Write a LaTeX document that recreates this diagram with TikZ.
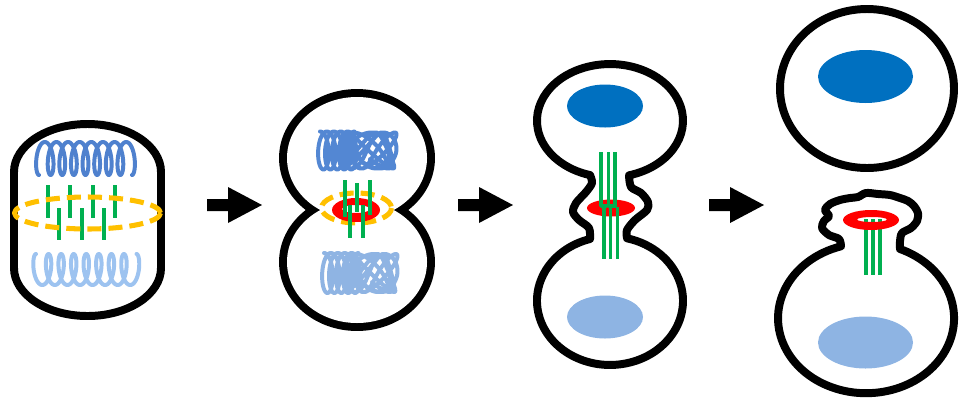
\documentclass[tikz,border=0pt]{standalone}
\usepackage{tikz}
\definecolor{coildark}{HTML}{4F81CE}
\definecolor{coillight}{HTML}{9DC3F0}
\definecolor{blobdark}{HTML}{5387D3}
\definecolor{bloblight}{HTML}{8FB4E3}
\definecolor{nucdark}{HTML}{0070C0}
\definecolor{nuclight}{HTML}{8EB4E3}
\definecolor{spindle}{HTML}{00B050}
\definecolor{plate}{HTML}{FFC000}
\definecolor{ringred}{HTML}{FF0000}

\begin{document}
\begin{tikzpicture}[x=0.03cm, y=-0.03cm, line join=round, wall/.style={line width=6.8pt}, fiber/.style={spindle, line width=3pt}, platedash/.style={plate, line width=4.3pt, dash pattern=on 12pt off 6pt}, coil/.style={line width=3.4pt, line cap=round}]
\useasboundingbox (0,0) rectangle (963,409);
\draw[wall] (14,172) arc[start angle=180, end angle=360, x radius=73.5, y radius=48] -- (161,268) arc[start angle=0, end angle=180, x radius=73.5, y radius=48] -- cycle;
\draw[coil, coildark] plot[domain=0:50.27, samples=400, variable=\t] ({39+1.85*\t-5.5*sin(\t r)}, {158.5+16.5*cos(\t r)});
\draw[coil, coillight] plot[domain=0:50.27, samples=400, variable=\t] ({36+2.0*\t-5.5*sin(\t r)}, {269.5-15.5*cos(\t r)});
\foreach \gx in {48,70,93,115} \draw[fiber] (\gx,185) -- (\gx,218);
\foreach \gx in {59,82,104} \draw[fiber] (\gx,208) -- (\gx,240);
\draw[platedash] (87.5,213) ellipse[x radius=73, y radius=16];
\foreach \ax in {207,458,709} \fill (\ax,199) -- ++(21,0) -- ++(0,-12) -- ++(34,18) -- ++(-34,18) -- ++(0,-12) -- ++(-21,0) -- cycle;
\draw[line width=13.6pt] (357,158) ellipse[x radius=70, y radius=61] (357,262) ellipse[x radius=70, y radius=61];
\fill[white] (357,158) ellipse[x radius=70, y radius=61] (357,262) ellipse[x radius=70, y radius=61];
\draw[coil, blobdark] plot[domain=0:31.4, samples=300, variable=\t] ({320+1.1*\t+7*sin(\t r)}, {150.5-19*cos(\t r)});
\draw[coil, blobdark] plot[domain=0:25, samples=500, variable=\t] ({370+23*sin(1.3*\t r)+4*sin(3.1*\t r)}, {150.5+18*sin((2.1*\t+0.5) r)});
\draw[coil, bloblight] plot[domain=0:31.4, samples=300, variable=\t] ({324+1.1*\t+7*sin(\t r)}, {273-20*cos(\t r)});
\draw[coil, bloblight] plot[domain=0:25, samples=500, variable=\t] ({372+22*sin(1.3*\t r)+4*sin(3.1*\t r)}, {273+19*sin((2.1*\t+0.5) r)});
\draw[platedash] (356.5,208) ellipse[x radius=35, y radius=15];
\fill[ringred, even odd rule] (356,210) ellipse[x radius=24, y radius=12] (356,209) ellipse[x radius=14, y radius=4];
\draw[fiber] (345,180) -- (345,217) (357,183) -- (357,212) (370,180) -- (370,215) (350,205) -- (350,238) (363,205) -- (363,238);
\draw[wall] (629,175.3) arc[start angle=74.9, end angle=-254.1, x radius=73, y radius=56.6] -- plot[smooth] coordinates {(590,175) (592,183) (586,192) (576,203) (573,212) (579,220) (589,228) (590,239)} arc[start angle=-105.9, end angle=-436.5, x radius=73, y radius=64.2] -- plot[smooth] coordinates {(627,238) (627,230) (635,220) (647,210) (648,202) (641,193) (631,187) (629,175.3)} -- cycle;
\fill[nucdark] (605,106) ellipse[x radius=38, y radius=21.5];
\fill[nuclight] (605,317) ellipse[x radius=38, y radius=21.5];
\fill[ringred] (611,208) ellipse[x radius=24, y radius=8.5];
\draw[fiber] (601,152) -- (601,206) -- (607,206) (608.5,152) -- (608.5,206) -- (617,206) (615,152) -- (615,206) (604,207) -- (604,259) (610.5,207) -- (610.5,259) (617.5,207) -- (617.5,259);
\draw[wall] (867,88.5) ellipse[x radius=87, y radius=79.5];
\fill[nucdark] (865.5,76.5) ellipse[x radius=47.5, y radius=26.5];
\draw[wall] (900,249) arc[start angle=-67.3, end angle=253.5, x radius=88, y radius=75] -- plot[smooth] coordinates {(841,246) (839,239) (829,235) (822,228) (824,221) (829,216) (825,210) (830,204) (840,200) (850,198) (858,197) (866,193) (878,194) (890,195) (900,198) (908,201) (914,206) (918,213) (917,221) (911,228) (902,233) (900,241) (900,249)} -- cycle;
\fill[nuclight] (865.5,342.5) ellipse[x radius=47.5, y radius=26];
\draw[fiber] (866,219) -- (866,275) (873,219) -- (873,275) (880,219) -- (880,275);
\fill[ringred, even odd rule] (871,220) ellipse[x radius=28, y radius=10] (872,219.5) ellipse[x radius=15, y radius=2.5];
\end{tikzpicture}
\end{document}
